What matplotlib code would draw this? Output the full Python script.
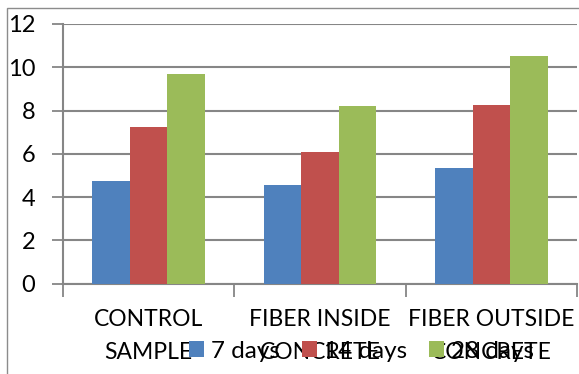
import matplotlib
matplotlib.use('Agg')
import matplotlib.pyplot as plt
from matplotlib.patches import Rectangle
import numpy as np

plt.rcParams['font.family'] = ['Lato', 'DejaVu Sans']

categories = ['CONTROL\nSAMPLE', 'FIBER INSIDE\nCONCRETE', 'FIBER OUTSIDE\nCONCRETE']
series_names = ['7 days', '14 days', '28 days']
days7 = [4.72, 4.56, 5.36]
days14 = [7.25, 6.06, 8.26]
days28 = [9.69, 8.19, 10.5]
colors = ['#4F81BD', '#C0504D', '#9BBB59']

W, H = 579, 374
fig = plt.figure(figsize=(W / 100, H / 100), dpi=100)
ax = fig.add_axes([63 / W, (H - 283.5) / H, (577 - 63) / W, (283.5 - 24) / H])

# outer chart border
fig.patches.append(Rectangle((7 / W, -0.1), 1.2, 1.1 - 8 / H, transform=fig.transFigure,
                             fill=False, edgecolor='#8c8c8c', lw=1.0))

x = np.arange(len(categories))
w = 0.219
for i, (vals, name) in enumerate(zip([days7, days14, days28], series_names)):
    ax.bar(x + (i - 1) * w, vals, width=w, color=colors[i], label=name, zorder=3)

ax.set_xlim(-0.5, 2.5)
ax.set_ylim(0, 12)
ax.set_yticks(np.arange(0, 13, 2))
ax.yaxis.grid(True, color='#868686', lw=1.5, zorder=0)
ax.tick_params(axis='y', length=8, width=1.3, color='#868686', labelsize=17, pad=12)
ax.set_xticks(x)
ax.set_xticklabels(categories, fontsize=16.5, linespacing=1.75)
ax.tick_params(axis='x', length=0, pad=18)
ax.set_xticks(np.arange(-0.5, 3, 1), minor=True)
ax.tick_params(axis='x', which='minor', length=9, width=1.3, color='#868686')
for s in ['top', 'right']:
    ax.spines[s].set_visible(False)
for s in ['left', 'bottom']:
    ax.spines[s].set_color('#868686')
    ax.spines[s].set_linewidth(1.5)

fig.legend(loc='center', bbox_to_anchor=(361.5 / W, 1 - 351 / H), ncol=3, frameon=False,
           fontsize=17.5, handlelength=0.62, handleheight=0.62, handletextpad=0.3,
           columnspacing=0.9, borderaxespad=0, borderpad=0)

fig.savefig('out.png', dpi=100)
